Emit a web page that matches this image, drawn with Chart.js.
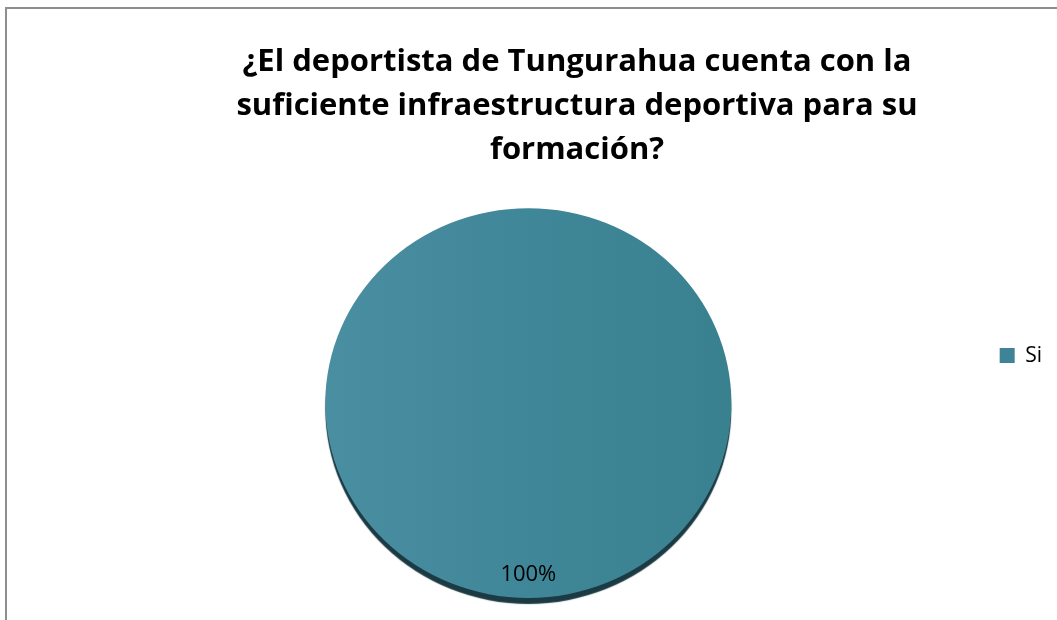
<!DOCTYPE html>
<html>
<head>
<meta charset="utf-8">
<script src="https://cdn.jsdelivr.net/npm/chart.js@4"></script>
<style>
  html, body { margin: 0; padding: 0; background: #fff; overflow: hidden; }
  #frame { position: absolute; left: 5px; top: 7px; width: 1200px; height: 700px; border-left: 2px solid #8e8e8e; border-top: 2px solid #8e8e8e; }
  #wrap { position: absolute; left: 7px; top: 9px; width: 1050px; height: 611px; }
</style>
</head>
<body>
<div id="frame"></div>
<div id="wrap"><canvas id="chart"></canvas></div>
<script>
const titleLines = ["¿El deportista de Tungurahua cuenta con la", "suficiente infraestructura deportiva para su", "formación?"];
const labels = ["Si"];
const values = [100];
const sliceColor = "#3e8496";

// etiqueta de porcentaje + borde inferior oscuro (efecto 3D)
const pctLabels = {
  id: "pctLabels",
  beforeDatasetsDraw(chart) {
    const arc = chart.getDatasetMeta(0).data[0];
    const ctx = chart.ctx;
    ctx.save();
    ctx.translate(arc.x, arc.y);
    ctx.scale(1, 0.96);
    ctx.translate(-arc.x, -arc.y);
    ctx.shadowColor = "#1b3a44";
    ctx.shadowOffsetY = 6;
    ctx.shadowBlur = 1;
  },
  afterDatasetsDraw(chart) {
    const ctx = chart.ctx;
    ctx.restore();
    const meta = chart.getDatasetMeta(0);
    const total = values.reduce((a, b) => a + b, 0);
    ctx.save();
    ctx.font = "22px 'Open Sans'";
    ctx.fillStyle = "#000";
    ctx.textAlign = "center";
    ctx.textBaseline = "middle";
    meta.data.forEach((arc, i) => {
      const pct = Math.round(values[i] / total * 100) + "%";
      ctx.fillText(pct, arc.x, arc.y + arc.outerRadius * 0.845);
    });
    ctx.restore();
  }
};

new Chart(document.getElementById("chart"), {
  type: "pie",
  data: {
    labels: labels,
    datasets: [{
      data: values,
      radius: 203,
      borderWidth: 0,
      backgroundColor: (c) => {
        const area = c.chart.chartArea;
        if (!area) return sliceColor;
        const g = c.chart.ctx.createLinearGradient(320, 0, 735, 0);
        g.addColorStop(0, "#4a8fa1");
        g.addColorStop(0.5, "#3f8698");
        g.addColorStop(1, "#39808f");
        return g;
      }
    }]
  },
  options: {
    responsive: true,
    maintainAspectRatio: false,
    animation: false,
    layout: { padding: { left: 95, right: 5, top: 0, bottom: 114 } },
    plugins: {
      title: {
        display: true,
        text: titleLines,
        color: "#000",
        font: { family: "Open Sans", size: 31, weight: "bold", lineHeight: 1.42 },
        padding: { top: 31, bottom: 128 }
      },
      legend: {
        position: "right",
        align: "start",
        fullSize: false,
        labels: {
          boxWidth: 15,
          boxHeight: 15,
          padding: 45,
          color: "#000",
          font: { family: "Open Sans", size: 21 },
          generateLabels: (chart) => labels.map((l, i) => ({
            text: l, fillStyle: sliceColor, strokeStyle: sliceColor, lineWidth: 0, index: i, hidden: false
          }))
        }
      },
      tooltip: { enabled: false }
    }
  },
  plugins: [pctLabels]
});
</script>
</body>
</html>
